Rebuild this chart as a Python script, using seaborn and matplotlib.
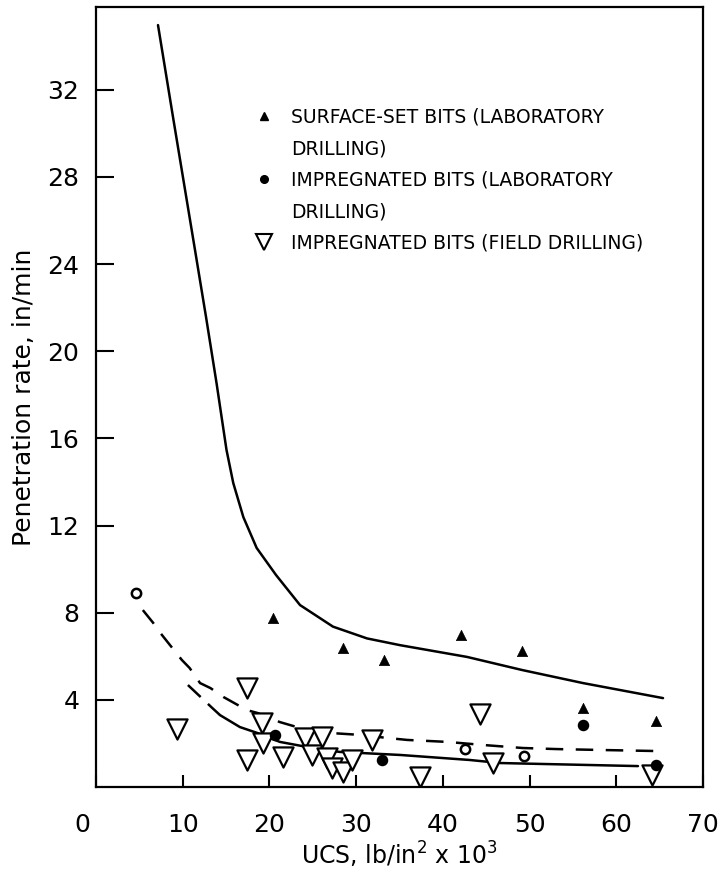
import matplotlib
matplotlib.use("Agg")
import matplotlib.pyplot as plt
from matplotlib.lines import Line2D
import seaborn as sns
import pandas as pd

# ---- data ----
surf_x = [20.4, 28.5, 33.2, 42.1, 49.1, 56.2, 64.6]
surf_y = [7.76, 6.38, 5.83, 6.98, 6.24, 3.63, 3.03]

imp_lab_x = [4.6, 20.6, 33.0, 42.6, 49.4, 56.2, 64.6]
imp_lab_y = [8.90, 2.39, 1.24, 1.74, 1.42, 2.85, 1.01]
imp_lab_filled = [False, True, True, False, False, True, True]

field_x = [9.3, 17.4, 17.4, 19.1, 19.3, 21.6, 24.1, 24.9, 26.1, 26.6, 27.2,
           28.5, 29.5, 31.8, 37.4, 44.3, 45.8, 64.1]
field_y = [2.66, 4.54, 1.24, 2.94, 2.02, 1.38, 2.25, 1.47, 2.29, 1.33, 0.87,
           0.69, 1.24, 2.16, 0.46, 3.35, 1.10, 0.55]

# fitted curves
surf_curve_x = [7.15, 8.88, 11.42, 12.69, 13.90, 15.05, 15.83, 16.99, 18.53,
                20.76, 23.53, 27.33, 31.25, 35.06, 42.79, 49.13, 56.16, 65.39]
surf_curve_y = [34.97, 30.75, 24.64, 21.57, 18.54, 15.47, 13.95, 12.39, 10.97,
                9.73, 8.35, 7.36, 6.82, 6.51, 5.97, 5.37, 4.77, 4.08]

lab_curve_x = [5.4, 6.6, 7.6, 8.8, 9.9, 10.8, 12.0, 13.2, 14.7, 17.4, 18.6,
               21.2, 24.3, 27.0, 30.5, 33.6, 35.9, 40.5, 44.6, 49.2, 53.2,
               58.1, 64.7]
lab_curve_y = [8.12, 7.53, 6.98, 6.38, 5.83, 5.46, 4.77, 4.54, 4.13, 3.53,
               3.40, 2.98, 2.62, 2.48, 2.39, 2.25, 2.16, 2.07, 1.93, 1.79,
               1.74, 1.70, 1.65]

field_ext_x = [10.6, 13.4, 14.3]
field_ext_y = [4.68, 3.63, 3.30]
field_curve_x = [14.3, 16.6, 18.6, 21.2, 24.3, 28.1, 35.1, 43.1, 46.6, 62.5]
field_curve_y = [3.30, 2.75, 2.48, 2.07, 1.84, 1.61, 1.47, 1.24, 1.10, 0.96]

x_ticks = [0, 10, 20, 30, 40, 50, 60, 70]
x_ticklabels = ["0", "10", "20", "30", "40", "50", "60", "70"]
y_ticks = [4, 8, 12, 16, 20, 24, 28, 32]
y_ticklabels = ["4", "8", "12", "16", "20", "24", "28", "32"]

legend_rows = ["SURFACE-SET BITS (LABORATORY", "DRILLING)",
               "IMPREGNATED BITS (LABORATORY", "DRILLING)",
               "IMPREGNATED BITS (FIELD DRILLING)"]

# ---- plotting ----
sns.set_style("white")
plt.rcParams["font.family"] = ["DejaVu Sans"]
for key in ["text.color", "axes.labelcolor", "xtick.color", "ytick.color"]:
    plt.rcParams[key] = "black"

fig = plt.figure(figsize=(7.19, 8.71), dpi=100)
ax = fig.add_axes([96 / 719, 1 - 787 / 871, (703 - 96) / 719, (787 - 7) / 871])

k = "black"
sns.lineplot(x=surf_curve_x, y=surf_curve_y, ax=ax, color=k, lw=1.8,
             sort=False, estimator=None)
sns.lineplot(x=lab_curve_x, y=lab_curve_y, ax=ax, color=k, lw=1.8,
             sort=False, estimator=None)
ax.lines[-1].set_dashes([7, 5])
sns.lineplot(x=field_ext_x, y=field_ext_y, ax=ax, color=k, lw=1.8,
             sort=False, estimator=None)
ax.lines[-1].set_dashes([7, 4])
sns.lineplot(x=field_curve_x, y=field_curve_y, ax=ax, color=k, lw=1.8,
             sort=False, estimator=None)
for ln in ax.lines:
    ln.set_solid_joinstyle("round")

sns.scatterplot(x=surf_x, y=surf_y, ax=ax, marker="^", s=55, color=k,
                edgecolor=k, linewidth=0.5, zorder=4)

df = pd.DataFrame({"x": imp_lab_x, "y": imp_lab_y, "f": imp_lab_filled})
sns.scatterplot(data=df[df.f], x="x", y="y", ax=ax, marker="o", s=50,
                color=k, edgecolor=k, linewidth=1.2, zorder=4)
sns.scatterplot(data=df[~df.f], x="x", y="y", ax=ax, marker="o", s=45,
                facecolor="white", edgecolor=k, linewidth=1.8, zorder=4)

sns.scatterplot(x=field_x, y=field_y, ax=ax, marker="v", s=210,
                facecolor="white", edgecolor=k, linewidth=1.6, zorder=3)

ax.set_xlim(0, 70)
ax.set_ylim(0, 35.8)
ax.set_xticks(x_ticks)
ax.set_xticklabels(x_ticklabels, fontsize=18)
ax.set_yticks(y_ticks)
ax.set_yticklabels(y_ticklabels, fontsize=18)
ax.tick_params(axis="y", direction="in", length=13, width=1.5, pad=12,
               left=True)
ax.tick_params(axis="x", direction="in", length=9, width=1.5, pad=19,
               bottom=True)
lbl0 = ax.xaxis.get_majorticklabels()[0]
lbl0.set_transform(lbl0.get_transform()
                   + matplotlib.transforms.ScaledTranslation(-14 / 100, 0,
                                                             fig.dpi_scale_trans))

for sp in ax.spines.values():
    sp.set_visible(True)
    sp.set_color(k)
    sp.set_linewidth(1.6)

ax.set_xlabel("UCS, lb/in$^2$ x 10$^3$", fontsize=17, labelpad=2)
ax.set_ylabel("Penetration rate, in/min", fontsize=18, labelpad=8)

blank = Line2D([], [], linestyle="none", marker="none")
handles = [
    Line2D([], [], linestyle="none", marker="^", color=k, markersize=6),
    blank,
    Line2D([], [], linestyle="none", marker="o", color=k, markersize=5.5),
    blank,
    Line2D([], [], linestyle="none", marker="v", markerfacecolor="white",
           markeredgecolor=k, markeredgewidth=1.5, markersize=12),
]
leg = ax.legend(handles, legend_rows, loc="upper left",
                bbox_to_anchor=(0.258, 0.871), frameon=False,
                fontsize=13.5, handletextpad=0.85, labelspacing=0.67,
                borderpad=0, handlelength=1.2, borderaxespad=0)

fig.savefig("out.png", dpi=100, facecolor="white")
